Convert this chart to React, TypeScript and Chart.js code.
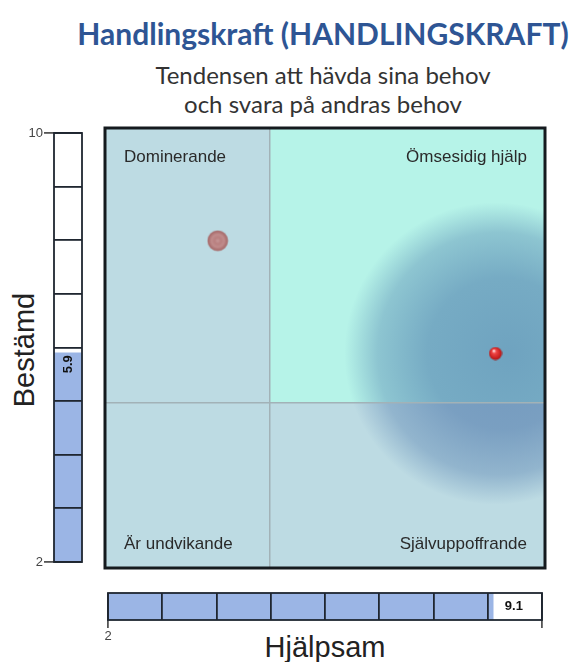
import React, { useEffect, useRef } from 'react';
import { Chart, registerables } from 'chart.js';

Chart.register(...registerables);

// ---------- data ----------
const TITLE = 'Handlingskraft (HANDLINGSKRAFT)';
const SUBTITLE_LINES = ['Tendensen att hävda sina behov', 'och svara på andras behov'];
const X_AXIS_LABEL = 'Hjälpsam';
const Y_AXIS_LABEL = 'Bestämd';
const SCALE_MIN = 2;
const SCALE_MAX = 10;
const QUADRANT_SPLIT = 5;
const QUADRANT_LABELS = ['Dominerande', 'Ömsesidig hjälp', 'Är undvikande', 'Självuppoffrande'];
const SCORE_X = [9.1];
const SCORE_Y = [5.9];
const PREVIOUS_X = [4.05];
const PREVIOUS_Y = [7.95];
const SPREAD = [2.75];
const GAUGE_TICK_LABELS = [2, 10];
const GAUGE_X_TICK_LABELS = [2];

// ---------- styles ----------
const SANS = '"Liberation Sans", Arial, sans-serif';
const BAR_BLUE = '#9bb5e5';
const GAUGE_LINE = '#1f2630';

function makeSphere(size: number, stops: [number, string][], hx: number, hy: number) {
  const c = document.createElement('canvas');
  c.width = size;
  c.height = size;
  const g = c.getContext('2d')!;
  const r = size / 2;
  const grad = g.createRadialGradient(r * hx, r * hy, 0.5, r, r, r);
  stops.forEach(([o, col]) => grad.addColorStop(o, col));
  g.fillStyle = grad;
  g.beginPath();
  g.arc(r, r, r - 0.5, 0, Math.PI * 2);
  g.fill();
  return c;
}

const quadrantPlugin = {
  id: 'quadrants',
  beforeDraw(chart: any) {
    const { ctx, chartArea: a, scales } = chart;
    const sx = scales.x.getPixelForValue(QUADRANT_SPLIT);
    const sy = scales.y.getPixelForValue(QUADRANT_SPLIT);
    ctx.save();
    ctx.fillStyle = '#bddbe3';
    ctx.fillRect(a.left, a.top, a.right - a.left, a.bottom - a.top);
    ctx.fillStyle = '#b6f3e8';
    ctx.fillRect(sx, a.top, a.right - sx, sy - a.top);
    // spread blob around the score
    ctx.beginPath();
    ctx.rect(a.left, a.top, a.right - a.left, a.bottom - a.top);
    ctx.clip();
    const px = scales.x.getPixelForValue(SCORE_X[0]);
    const py = scales.y.getPixelForValue(SCORE_Y[0]);
    const rad = scales.x.getPixelForValue(SCORE_X[0] + SPREAD[0]) - px;
    const grad = ctx.createRadialGradient(px + rad * 0.1, py, 0, px, py, rad);
    grad.addColorStop(0, 'rgba(55,100,160,0.56)');
    grad.addColorStop(0.5, 'rgba(55,100,160,0.5)');
    grad.addColorStop(0.8, 'rgba(55,100,160,0.32)');
    grad.addColorStop(0.95, 'rgba(55,100,160,0.08)');
    grad.addColorStop(1, 'rgba(55,100,160,0)');
    ctx.fillStyle = grad;
    ctx.beginPath();
    ctx.arc(px, py, rad, 0, Math.PI * 2);
    ctx.fill();
    ctx.restore();
  },
  afterDraw(chart: any) {
    const { ctx, chartArea: a } = chart;
    ctx.save();
    ctx.font = `17px ${SANS}`;
    ctx.fillStyle = '#2a2a2a';
    ctx.textBaseline = 'middle';
    ctx.textAlign = 'left';
    ctx.fillText(QUADRANT_LABELS[0], a.left + 19, a.top + 29);
    ctx.fillText(QUADRANT_LABELS[2], a.left + 19, a.bottom - 24);
    ctx.textAlign = 'right';
    ctx.fillText(QUADRANT_LABELS[1], a.right - 18, a.top + 29);
    ctx.fillText(QUADRANT_LABELS[3], a.right - 18, a.bottom - 24);
    ctx.strokeStyle = '#151a1e';
    ctx.lineWidth = 3;
    ctx.strokeRect(a.left, a.top, a.right - a.left, a.bottom - a.top);
    ctx.restore();
  },
};

function gaugePlugin(vertical: boolean, value: number) {
  return {
    id: 'gaugeDecor',
    afterDraw(chart: any) {
      const { ctx, chartArea: a, scales } = chart;
      ctx.save();
      ctx.strokeStyle = GAUGE_LINE;
      ctx.lineWidth = 1.8;
      ctx.strokeRect(a.left, a.top, a.right - a.left, a.bottom - a.top);
      ctx.font = `bold 13px ${SANS}`;
      ctx.fillStyle = '#111';
      ctx.textAlign = 'center';
      ctx.textBaseline = 'middle';
      const seg = Math.floor(value) + 0.5;
      if (vertical) {
        const y = scales.y.getPixelForValue(seg) - 10;
        const x = (a.left + a.right) / 2;
        ctx.translate(x, y);
        ctx.rotate(-Math.PI / 2);
        ctx.fillText(value.toFixed(1), 0, 0);
      } else {
        const x = scales.x.getPixelForValue(seg) - 1;
        const y = (a.top + a.bottom) / 2;
        ctx.fillText(value.toFixed(1), x, y);
      }
      ctx.restore();
    },
  };
}

function useChart(ref: React.RefObject<HTMLCanvasElement | null>, make: (c: HTMLCanvasElement) => Chart) {
  useEffect(() => {
    if (!ref.current) return;
    const ch = make(ref.current);
    return () => ch.destroy();
  }, []);
}

const noPlugins = { legend: { display: false }, tooltip: { enabled: false }, title: { display: false } };

export default function App() {
  const mainRef = useRef<HTMLCanvasElement>(null);
  const leftRef = useRef<HTMLCanvasElement>(null);
  const bottomRef = useRef<HTMLCanvasElement>(null);

  useChart(mainRef, (c) => {
    const sphere = makeSphere(14, [
      [0, '#ffe4e4'],
      [0.25, '#f04646'],
      [0.8, '#c41c1c'],
      [1, '#8e1818'],
    ], 0.75, 0.6);
    const faded = makeSphere(22, [
      [0, '#c49393'],
      [0.25, '#b98080'],
      [0.55, '#c08c8c'],
      [0.85, '#a86c6c'],
      [1, 'rgba(168,108,108,0.35)'],
    ], 1, 1);
    return new Chart(c, {
      type: 'scatter',
      data: {
        datasets: [
          { data: PREVIOUS_X.map((x, i) => ({ x, y: PREVIOUS_Y[i] })), pointStyle: faded as any, pointRadius: 11 },
          { data: SCORE_X.map((x, i) => ({ x, y: SCORE_Y[i] })), pointStyle: sphere as any, pointRadius: 7 },
        ],
      },
      options: {
        animation: false,
        responsive: false,
        events: [],
        layout: { padding: 3, autoPadding: false },
        plugins: noPlugins as any,
        scales: {
          x: {
            type: 'linear', min: SCALE_MIN, max: SCALE_MAX,
            afterBuildTicks: (s: any) => { s.ticks = [{ value: QUADRANT_SPLIT }]; },
            afterFit: (s: any) => { s.height = 0; },
            ticks: { display: false },
            grid: { color: '#a2b2b7', lineWidth: 1.5, drawTicks: false },
            border: { display: false },
          },
          y: {
            type: 'linear', min: SCALE_MIN, max: SCALE_MAX,
            afterBuildTicks: (s: any) => { s.ticks = [{ value: QUADRANT_SPLIT }]; },
            afterFit: (s: any) => { s.width = 0; },
            ticks: { display: false },
            grid: { color: '#a2b2b7', lineWidth: 1.5, drawTicks: false },
            border: { display: false },
          },
        },
      },
      plugins: [quadrantPlugin],
    });
  });

  useChart(leftRef, (c) =>
    new Chart(c, {
      type: 'bar',
      data: {
        labels: [''],
        datasets: [{ data: SCORE_Y, backgroundColor: BAR_BLUE, borderWidth: 0, barPercentage: 1, categoryPercentage: 1 }],
      },
      options: {
        animation: false,
        responsive: false,
        events: [],
        layout: { padding: { top: 13, bottom: 10, right: 2, left: 0 }, autoPadding: false },
        plugins: noPlugins as any,
        scales: {
          x: { display: false },
          y: {
            min: SCALE_MIN, max: SCALE_MAX,
            afterFit: (s: any) => { s.width = 44; },
            ticks: {
              stepSize: 1, autoSkip: false, padding: 1, color: '#444',
              font: { family: SANS, size: 13 },
              callback: (v: any) => (GAUGE_TICK_LABELS.includes(Number(v)) ? String(v) : ''),
            },
            grid: {
              z: 1,
              color: GAUGE_LINE, lineWidth: 1.8, tickLength: 10,
              tickColor: (ctx: any) => (GAUGE_TICK_LABELS.includes(ctx.tick?.value) ? '#555' : 'rgba(0,0,0,0)'),
            },
            border: { display: false },
          },
        },
      },
      plugins: [gaugePlugin(true, SCORE_Y[0])],
    })
  );

  useChart(bottomRef, (c) =>
    new Chart(c, {
      type: 'bar',
      data: {
        labels: [''],
        datasets: [{ data: SCORE_X, backgroundColor: BAR_BLUE, borderWidth: 0, barPercentage: 1, categoryPercentage: 1 }],
      },
      options: {
        indexAxis: 'y',
        animation: false,
        responsive: false,
        events: [],
        layout: { padding: { top: 5, bottom: 0, right: 8, left: 8 }, autoPadding: false },
        plugins: noPlugins as any,
        scales: {
          y: { display: false },
          x: {
            min: SCALE_MIN, max: SCALE_MAX,
            afterFit: (s: any) => { s.height = 24; },
            ticks: {
              stepSize: 1, autoSkip: false, padding: 1, color: '#444', maxRotation: 0,
              font: { family: SANS, size: 13 },
              callback: (v: any) => (GAUGE_X_TICK_LABELS.includes(Number(v)) ? String(v) : ''),
            },
            grid: {
              z: 1,
              color: GAUGE_LINE, lineWidth: 1.8, tickLength: 8,
              tickColor: (ctx: any) => (GAUGE_TICK_LABELS.includes(ctx.tick?.value) ? '#555' : 'rgba(0,0,0,0)'),
            },
            border: { display: false },
          },
        },
      },
      plugins: [gaugePlugin(false, SCORE_X[0])],
    })
  );

  const abs: React.CSSProperties = { position: 'absolute' };
  return (
    <div style={{ ...abs, left: 0, top: 0, width: 575, height: 662, overflow: 'hidden', background: '#fff' }}>
      <div style={{ ...abs, left: 73, width: 500, top: 15, textAlign: 'center', fontFamily: 'Lato, "Open Sans", sans-serif', fontWeight: 700, fontSize: 30, color: '#2e5594', whiteSpace: 'nowrap' }}>
        {TITLE}
      </div>
      <div style={{ ...abs, left: 73, width: 500, top: 60, textAlign: 'center', fontFamily: 'Lato, "Open Sans", sans-serif', fontSize: 24, lineHeight: '29px', color: '#333' }}>
        {SUBTITLE_LINES.map((l) => (<div key={l}>{l}</div>))}
      </div>
      <div style={{ ...abs, left: 24, top: 350, transform: 'translate(-50%,-50%) rotate(-90deg)', fontFamily: SANS, fontSize: 29, lineHeight: 'normal', color: '#222', whiteSpace: 'nowrap' }}>
        {Y_AXIS_LABEL}
      </div>
      <div style={{ ...abs, left: 325, top: 631, transform: 'translateX(-50%)', fontFamily: SANS, fontSize: 29, lineHeight: 'normal', color: '#222', whiteSpace: 'nowrap' }}>
        {X_AXIS_LABEL}
      </div>
      <canvas ref={mainRef} width={446} height={446} style={{ ...abs, left: 102, top: 125, width: 446, height: 446 }} />
      <canvas ref={leftRef} width={74} height={452} style={{ ...abs, left: 10, top: 120, width: 74, height: 452 }} />
      <canvas ref={bottomRef} width={450} height={56} style={{ ...abs, left: 100, top: 588, width: 450, height: 56 }} />
    </div>
  );
}
